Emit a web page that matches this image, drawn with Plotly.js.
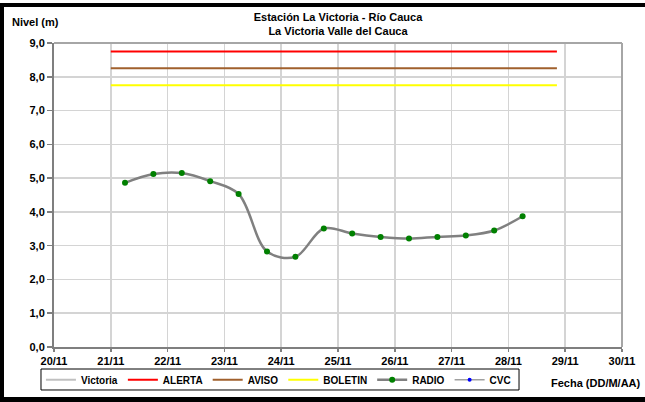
<!DOCTYPE html>
<html>
<head>
<meta charset="utf-8">
<script src="https://cdn.plot.ly/plotly-3.0.1.min.js"></script>
<style>
html,body{margin:0;padding:0;background:#fff;}
#wrap{position:relative;width:645px;height:402px;overflow:hidden;}
#chart{width:645px;height:402px;}
.bar{position:absolute;background:#000;pointer-events:none;}
</style>
</head>
<body>
<div id="wrap">
<div id="chart"></div>
<div class="bar" style="left:0;top:3px;width:645px;height:4px;"></div>
<div class="bar" style="left:0;top:3px;width:4px;height:399px;"></div>
<div class="bar" style="left:0;top:397px;width:645px;height:5px;"></div>
</div>
<script>
// Radio readings (date-time, level in m)
var radioTimes = [
  "2011-11-21 06:00","2011-11-21 18:00","2011-11-22 06:00","2011-11-22 18:00",
  "2011-11-23 06:00","2011-11-23 18:00","2011-11-24 06:00","2011-11-24 18:00",
  "2011-11-25 06:00","2011-11-25 18:00","2011-11-26 06:00","2011-11-26 18:00",
  "2011-11-27 06:00","2011-11-27 18:00","2011-11-28 06:00"
];
var radioLevels = [4.86, 5.12, 5.15, 4.91, 4.53, 2.83, 2.67, 3.51, 3.36, 3.26, 3.21, 3.26, 3.30, 3.45, 3.87];

// Threshold lines
var thresholdTimes = ["2011-11-21 00:00", "2011-11-28 20:30"];
var alertaLevel = [8.75, 8.75];
var avisoLevel = [8.25, 8.25];
var boletinLevel = [7.75, 7.75];

var xTickVals = ["2011-11-20","2011-11-21","2011-11-22","2011-11-23","2011-11-24","2011-11-25",
                 "2011-11-26","2011-11-27","2011-11-28","2011-11-29","2011-11-30"];
var xTickText = ["20/11","21/11","22/11","23/11","24/11","25/11","26/11","27/11","28/11","29/11","30/11"];
var yTickVals = [0,1,2,3,4,5,6,7,8,9];
var yTickText = ["0,0","1,0","2,0","3,0","4,0","5,0","6,0","7,0","8,0","9,0"];

var traces = [
  {name:"Victoria", x:[null], y:[null], mode:"lines", line:{color:"#c0c0c0", width:2}},
  {name:"ALERTA", x:thresholdTimes, y:alertaLevel, mode:"lines", line:{color:"#ff0000", width:2}},
  {name:"AVISO", x:thresholdTimes, y:avisoLevel, mode:"lines", line:{color:"#a0602d", width:2}},
  {name:"BOLETIN", x:thresholdTimes, y:boletinLevel, mode:"lines", line:{color:"#ffff00", width:2}},
  {name:"RADIO", x:radioTimes, y:radioLevels, mode:"lines+markers",
   line:{color:"#808080", width:2.5, shape:"spline", smoothing:1},
   marker:{color:"#008000", size:6}},
  {name:"CVC", x:[null], y:[null], mode:"lines+markers",
   line:{color:"#a0a0a0", width:1.5}, marker:{color:"#0000ff", size:4}}
];

var fontFam = "Liberation Sans, Arial, sans-serif";
var bold = function(arr){ return arr.map(function(s){ return "<b>" + s + "</b>"; }); };

var layout = {
  width:645, height:402,
  margin:{l:54, r:23, t:43, b:55, pad:0, autoexpand:false},
  paper_bgcolor:"#ffffff", plot_bgcolor:"#ffffff",
  font:{family:fontFam, size:11, color:"#000"},
  title:{text:"<b>Estación La Victoria - Río Cauca<br>La Victoria Valle del Cauca</b>",
         x:0.5, xref:"paper", xanchor:"center", y:0.948, yanchor:"top",
         font:{family:fontFam, size:11, color:"#000"}},
  xaxis:{type:"date", range:["2011-11-20","2011-11-30"],
         tickmode:"array", tickvals:xTickVals, ticktext:bold(xTickText),
         tickfont:{family:fontFam, size:11, color:"#000"},
         showgrid:true, gridcolor:"#d4d4d4", gridwidth:1.5,
         showline:true, linecolor:"#7f7f7f", linewidth:2,
         ticks:"outside", ticklen:3, tickcolor:"#7f7f7f", tickwidth:1.5,
         mirror:false, zeroline:false, fixedrange:true, automargin:false},
  yaxis:{range:[0,9], tickmode:"array", tickvals:yTickVals, ticktext:bold(yTickText),
         tickfont:{family:fontFam, size:11, color:"#000"},
         showgrid:true, gridcolor:"#d4d4d4", gridwidth:1.5,
         showline:true, linecolor:"#7f7f7f", linewidth:2,
         ticks:"outside", ticklen:5, tickcolor:"#7f7f7f", tickwidth:1.5,
         zeroline:false, fixedrange:true, automargin:false},
  shapes:[
    {type:"line", xref:"paper", yref:"paper", x0:0, x1:1, y0:1, y1:1, line:{color:"#a6a6a6", width:2}},
    {type:"line", xref:"paper", yref:"paper", x0:1, x1:1, y0:0, y1:1, line:{color:"#a6a6a6", width:2}},
    {type:"rect", xref:"paper", yref:"paper", x0:-0.0229, x1:0.8187, y0:-0.1414, y1:-0.0724,
     line:{color:"#000000", width:1}, fillcolor:"rgba(0,0,0,0)"}
  ],
  showlegend:true,
  legend:{orientation:"h", x:-0.023, xanchor:"left", y:-0.1075, yanchor:"middle",
          bgcolor:"rgba(0,0,0,0)", borderwidth:0,
          font:{family:fontFam, size:10, color:"#000", weight:"bold"},
          itemwidth:30, tracegroupgap:0},
  annotations:[
    {text:"<b>Nivel (m)</b>", xref:"paper", yref:"paper", x:-0.078, y:1.069,
     xanchor:"left", yanchor:"middle", showarrow:false,
     font:{family:fontFam, size:11, color:"#000"}},
    {text:"<b>Fecha (DD/M/AA)</b>", xref:"paper", yref:"paper", x:1.037, y:-0.118,
     xanchor:"right", yanchor:"middle", showarrow:false,
     font:{family:fontFam, size:11, color:"#000"}}
  ]
};

Plotly.newPlot("chart", traces, layout, {displayModeBar:false, staticPlot:true});
</script>
</body>
</html>
